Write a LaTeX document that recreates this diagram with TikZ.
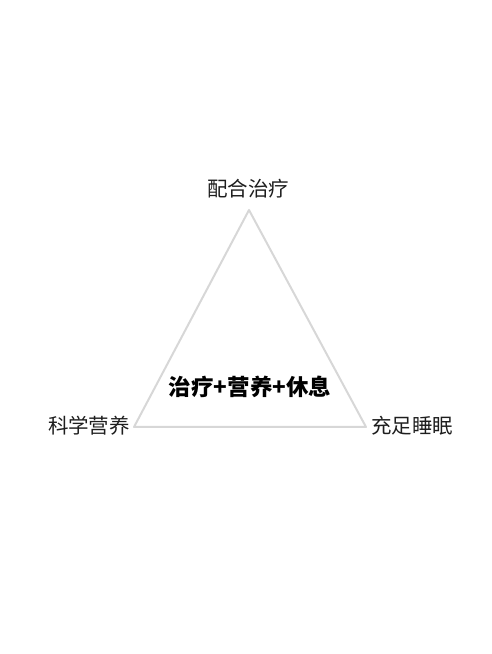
\documentclass[tikz,border=0pt]{standalone}
\usepackage{fontspec}
\usepackage{xcolor}
\newfontfamily\cjk{Noto Sans CJK SC}
\definecolor{edgegray}{RGB}{215,215,215}
\definecolor{labelgray}{RGB}{30,30,30}
\begin{document}
\begin{tikzpicture}[x=1pt, y=1pt,
    corner/.style={font=\cjk\fontsize{20.5}{24}\selectfont, text=labelgray, inner sep=0pt},
    hub/.style={font=\cjk\bfseries\fontsize{22.5}{26}\selectfont, text=black, inner sep=0pt}]
                \useasboundingbox (0,0) rectangle (491,654);
                \coordinate (T) at (249,444);
                \coordinate (L) at (134,227);
                \coordinate (R) at (366,227);
                \draw[edgegray, line width=2pt, line join=round] (T) -- (L) -- (R) -- cycle;
                \node[corner] (treat) at (248,465) {配合治疗};
                \node[corner] (food) at (89,228) {科学营养};
                \node[corner] (sleep) at (412,228) {充足睡眠};
                \node[hub] (all) at (250,267) {治疗+营养+休息};
            \end{tikzpicture}
\end{document}
